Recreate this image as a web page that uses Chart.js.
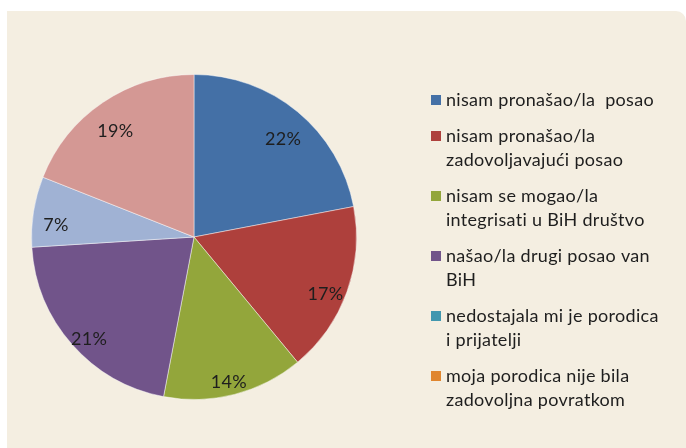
<!DOCTYPE html>
<html>
<head>
<meta charset="utf-8">
<script src="https://cdn.jsdelivr.net/npm/chart.js@4/dist/chart.umd.min.js"></script>
<style>
  html, body { margin: 0; padding: 0; background: #ffffff; }
  #frame {
    position: absolute;
    left: 7px;
    top: 11px;
    width: 679px;
    height: 437px;
    background: #f4eee1;
    border-top-right-radius: 10px;
  }
</style>
</head>
<body>
<div id="frame"><canvas id="chart" width="679" height="437"></canvas></div>
<script>
// categories (the last two slices have no visible legend entry in the original)
const categories = [
  "nisam pronašao/la  posao",
  "nisam pronašao/la\nzadovoljavajući posao",
  "nisam se mogao/la\nintegrisati u BiH društvo",
  "našao/la drugi posao van\nBiH",
  "nedostajala mi je porodica\ni prijatelji",
  "moja porodica nije bila\nzadovoljna povratkom",
  "",
  ""
];
const shares = [22, 17, 14, 21, 0, 0, 7, 19];
const sliceColors = ["#4470a6", "#ae403c", "#93a63b", "#71548a", "#4197af", "#e0862f", "#a0b2d4", "#d49894"];

const labelFont = "18px Lato";
const textColor = "#1e1e1e";

// percentage labels inside the slices
const sliceLabels = {
  id: "sliceLabels",
  afterDatasetsDraw(chart) {
    const ctx = chart.ctx;
    const meta = chart.getDatasetMeta(0);
    ctx.save();
    ctx.font = labelFont;
    ctx.letterSpacing = "0.3px";
    ctx.fillStyle = textColor;
    ctx.textAlign = "center";
    ctx.textBaseline = "middle";
    meta.data.forEach((arc, i) => {
      const v = shares[i];
      if (!v) return;
      const p = arc.getProps(["x", "y", "startAngle", "endAngle", "outerRadius"], true);
      const mid = (p.startAngle + p.endAngle) / 2;
      const r = p.outerRadius * 0.86;
      ctx.fillText(v + "%", p.x + Math.cos(mid) * r, p.y + Math.sin(mid) * r + 10);
    });
    ctx.restore();
  }
};

// legend on the right, multi-line entries with the box on the first line
const sideLegend = {
  id: "sideLegend",
  afterDraw(chart) {
    const ctx = chart.ctx;
    const boxX = 424, textX = 439;
    const lineH = 24, gap = 12;
    let y = 89;
    ctx.save();
    ctx.font = labelFont;
    ctx.letterSpacing = "0.3px";
    ctx.textBaseline = "middle";
    categories.forEach((c, i) => {
      if (!c) return;
      const lines = c.split("\n");
      ctx.fillStyle = sliceColors[i];
      ctx.fillRect(boxX, y - 5, 10, 10);
      ctx.fillStyle = textColor;
      lines.forEach((ln, j) => ctx.fillText(ln, textX, y + j * lineH));
      y += lines.length * lineH + gap;
    });
    ctx.restore();
  }
};

new Chart(document.getElementById("chart"), {
  type: "pie",
  data: {
    labels: categories,
    datasets: [{
      data: shares,
      backgroundColor: sliceColors,
      borderColor: "rgba(255,255,255,0.45)",
      borderWidth: 1
    }]
  },
  options: {
    responsive: false,
    animation: false,
    layout: { padding: { left: 24, top: 63, right: 329, bottom: 48 } },
    plugins: {
      legend: { display: false },
      tooltip: { enabled: false }
    }
  },
  plugins: [sliceLabels, sideLegend]
});
</script>
</body>
</html>
